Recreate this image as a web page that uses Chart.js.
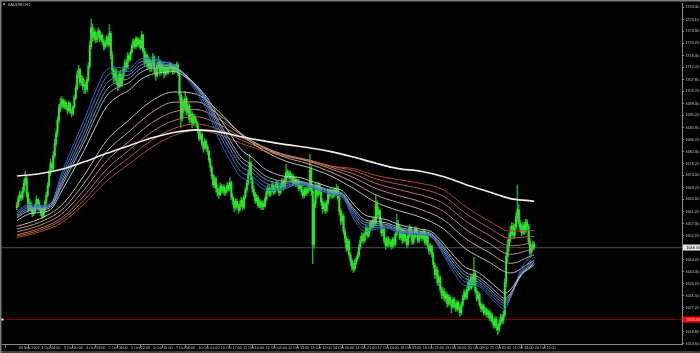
<!DOCTYPE html>
<html>
<head>
<meta charset="utf-8">
<script src="https://cdn.jsdelivr.net/npm/chart.js@4.4.1/dist/chart.umd.min.js"></script>
<style>
  html, body { margin: 0; padding: 0; background: #000; }
  canvas { display: block; }
</style>
</head>
<body>
<canvas id="chart" width="700" height="353"></canvas>
<script>
// XAUUSD H1, 30 Sep 2022 11:00 .. 24 Oct 2022 12:00 (one value per bar)
const firstOpen = 1662.6;
const closes = [
  1663.5, 1665.8, 1667.2, 1666.0, 1668.5, 1671.2, 1673.0, 1667.5, 1662.4, 1664.0, 1662.0, 1660.5, 1661.3, 1663.0, 1665.5, 1664.2,
  1662.5, 1660.8, 1659.6, 1661.8, 1664.5, 1667.0, 1670.4, 1674.8, 1678.2, 1676.5, 1681.0, 1685.3, 1688.9, 1693.5, 1697.8, 1699.2,
  1700.6, 1698.4, 1699.8, 1698.0, 1697.1, 1699.5, 1696.8, 1695.9, 1698.2, 1701.5, 1704.8, 1709.6, 1711.4, 1706.9, 1708.3, 1705.6,
  1706.2, 1704.4, 1707.8, 1712.5, 1719.6, 1726.3, 1722.8, 1724.6, 1721.9, 1723.4, 1725.0, 1722.1, 1723.5, 1721.2, 1719.4, 1720.8,
  1722.6, 1720.3, 1724.1, 1716.4, 1711.2, 1708.5, 1710.9, 1707.4, 1705.6, 1709.8, 1706.3, 1708.9, 1711.5, 1713.8, 1712.4, 1716.2,
  1715.0, 1717.4, 1719.8, 1721.5, 1719.6, 1722.3, 1720.1, 1721.8, 1719.2, 1723.6, 1718.0, 1714.2, 1716.5, 1712.6, 1714.8, 1711.9,
  1713.5, 1715.8, 1711.0, 1709.2, 1712.7, 1714.4, 1710.6, 1713.1, 1711.8, 1709.9, 1712.2, 1710.4, 1711.6, 1713.2, 1712.0, 1710.8,
  1712.5, 1711.3, 1713.0, 1710.2, 1702.4, 1694.0, 1699.5, 1697.8, 1701.2, 1696.4, 1698.6, 1693.9, 1695.7, 1692.4, 1694.8, 1693.1,
  1692.0, 1689.8, 1687.1, 1688.4, 1685.2, 1683.6, 1686.0, 1684.1, 1682.4, 1679.5, 1676.8, 1673.9, 1670.6, 1672.8, 1669.4, 1668.0,
  1667.2, 1670.1, 1668.5, 1669.8, 1667.9, 1668.8, 1670.4, 1669.2, 1671.5, 1666.3, 1664.9, 1662.5, 1664.8, 1663.1, 1661.9, 1663.7,
  1665.2, 1662.8, 1666.4, 1668.9, 1671.3, 1674.6, 1678.2, 1672.5, 1669.1, 1667.3, 1665.0, 1666.2, 1663.4, 1664.7, 1662.9, 1664.0,
  1663.1, 1665.6, 1668.2, 1669.5, 1667.4, 1668.9, 1670.6, 1668.1, 1669.7, 1671.0, 1669.3, 1667.9, 1670.2, 1671.8, 1669.6, 1672.4,
  1675.2, 1673.6, 1674.8, 1672.9, 1673.8, 1671.4, 1672.6, 1670.8, 1671.9, 1669.4, 1670.5, 1668.2, 1666.8, 1669.0, 1667.6, 1668.9,
  1669.3, 1676.0, 1668.4, 1649.6, 1663.8, 1669.5, 1667.2, 1670.4, 1668.0, 1664.6, 1662.2, 1663.9, 1661.5, 1664.3, 1668.2, 1667.0,
  1668.4, 1666.9, 1668.8, 1667.5, 1669.2, 1666.0, 1661.4, 1657.9, 1659.6, 1654.2, 1651.8, 1648.3, 1650.6, 1645.9, 1643.7, 1641.8,
  1640.9, 1643.2, 1644.5, 1645.8, 1648.7, 1651.0, 1652.6, 1650.9, 1653.4, 1655.1, 1652.8, 1654.6, 1657.2, 1655.9, 1658.3, 1657.0,
  1663.8, 1660.2, 1661.5, 1657.4, 1653.6, 1655.0, 1650.8, 1649.2, 1651.6, 1649.8, 1650.5, 1648.9, 1651.3, 1649.7, 1653.2, 1656.9,
  1655.4, 1652.1, 1654.6, 1650.9, 1653.8, 1651.5, 1649.6, 1652.7, 1655.3, 1653.0, 1650.4, 1652.2, 1654.9, 1653.1, 1651.0, 1652.6,
  1653.5, 1651.8, 1654.0, 1650.2, 1652.4, 1649.1, 1647.3, 1648.8, 1646.0, 1642.5, 1638.9, 1640.6, 1636.2, 1637.8, 1633.9, 1631.6,
  1633.0, 1630.4, 1631.8, 1628.6, 1630.9, 1629.2, 1627.5, 1630.1, 1628.4, 1626.8, 1629.0, 1627.1, 1625.4, 1628.2, 1630.7, 1632.5,
  1631.0, 1633.6, 1636.4, 1634.2, 1637.9, 1635.5, 1639.2, 1633.1, 1630.4, 1631.9, 1628.3, 1626.9, 1627.8, 1625.5, 1626.6, 1624.9,
  1625.8, 1623.6, 1624.7, 1622.4, 1621.0, 1623.2, 1620.1, 1619.5, 1621.8, 1623.9, 1622.6, 1624.8, 1636.0, 1645.2, 1649.0, 1651.5,
  1653.8, 1656.2, 1652.9, 1655.6, 1659.4, 1661.8, 1657.0, 1655.3, 1653.8, 1656.4, 1654.2, 1657.5, 1655.9, 1650.6, 1646.8, 1648.2,
  1649.6, 1648.5
];
const highs = [
  1664.6, 1666.9, 1668.5, 1668.1, 1669.8, 1672.6, 1675.4, 1673.8, 1668.2, 1665.7, 1664.9, 1663.1, 1662.7, 1664.2, 1666.8, 1666.0,
  1665.1, 1663.4, 1661.9, 1662.6, 1665.3, 1668.2, 1671.5, 1675.9, 1679.8, 1679.0, 1682.4, 1686.9, 1690.2, 1694.8, 1699.1, 1701.3,
  1701.9, 1701.2, 1700.7, 1700.4, 1698.9, 1700.3, 1699.9, 1697.5, 1698.8, 1702.4, 1705.9, 1710.8, 1712.9, 1712.0, 1709.4, 1709.1,
  1707.9, 1707.0, 1708.6, 1713.9, 1721.2, 1729.4, 1727.6, 1725.8, 1725.3, 1724.5, 1726.2, 1725.6, 1724.4, 1724.1, 1722.0, 1721.7,
  1723.5, 1723.4, 1727.3, 1724.9, 1717.8, 1712.4, 1712.0, 1711.6, 1708.8, 1710.9, 1711.2, 1709.7, 1712.6, 1715.1, 1714.9, 1717.4,
  1717.0, 1718.3, 1720.6, 1722.4, 1722.0, 1723.1, 1722.9, 1722.6, 1722.2, 1724.9, 1724.0, 1718.9, 1717.6, 1717.0, 1715.9, 1715.3,
  1714.6, 1717.2, 1716.4, 1711.9, 1713.8, 1716.1, 1714.9, 1714.0, 1713.7, 1712.5, 1713.0, 1712.9, 1712.4, 1714.1, 1713.8, 1712.6,
  1713.4, 1713.3, 1714.2, 1713.6, 1711.0, 1703.5, 1701.8, 1700.9, 1703.8, 1702.0, 1699.7, 1699.2, 1697.0, 1696.6, 1695.8, 1695.6,
  1694.2, 1693.0, 1690.4, 1689.6, 1689.1, 1686.0, 1687.2, 1686.7, 1684.9, 1683.0, 1680.2, 1677.5, 1674.6, 1673.9, 1673.5, 1670.8,
  1669.4, 1671.2, 1670.9, 1670.7, 1670.6, 1669.7, 1671.6, 1671.1, 1673.2, 1672.0, 1667.4, 1665.6, 1665.9, 1665.7, 1663.8, 1664.9,
  1666.3, 1665.9, 1667.1, 1669.8, 1672.4, 1676.0, 1681.5, 1679.0, 1673.6, 1670.2, 1668.1, 1667.3, 1666.9, 1665.6, 1665.3, 1665.1,
  1665.0, 1666.5, 1669.4, 1670.8, 1670.3, 1669.8, 1671.9, 1671.2, 1670.6, 1672.3, 1671.8, 1670.1, 1671.0, 1673.0, 1672.5, 1673.6,
  1678.0, 1676.1, 1675.7, 1675.6, 1674.7, 1674.5, 1673.5, 1673.4, 1672.8, 1672.6, 1671.3, 1671.2, 1669.0, 1669.8, 1669.9, 1669.7,
  1670.6, 1681.5, 1677.1, 1669.6, 1665.1, 1671.3, 1670.8, 1671.5, 1671.2, 1668.9, 1665.7, 1664.8, 1664.6, 1665.2, 1669.1, 1669.3,
  1669.4, 1669.0, 1669.5, 1669.6, 1670.9, 1670.2, 1666.8, 1662.3, 1660.7, 1660.4, 1655.3, 1652.6, 1651.7, 1651.4, 1646.8, 1644.6,
  1643.0, 1644.1, 1645.3, 1647.0, 1649.6, 1652.4, 1653.8, 1653.5, 1654.2, 1656.3, 1655.8, 1655.5, 1658.1, 1658.0, 1659.4, 1659.0,
  1667.5, 1665.0, 1662.8, 1662.2, 1658.6, 1656.1, 1655.9, 1652.0, 1652.5, 1652.4, 1651.4, 1651.2, 1652.0, 1652.1, 1654.0, 1660.4,
  1658.1, 1656.3, 1655.7, 1655.4, 1654.9, 1654.6, 1652.4, 1653.8, 1656.6, 1656.0, 1653.9, 1653.1, 1656.0, 1655.8, 1653.9, 1653.5,
  1654.4, 1654.2, 1654.9, 1654.7, 1653.3, 1653.0, 1649.8, 1649.9, 1649.5, 1646.8, 1643.3, 1641.7, 1641.5, 1638.9, 1638.6, 1634.8,
  1634.4, 1633.9, 1632.7, 1632.5, 1631.8, 1631.7, 1630.0, 1630.9, 1630.8, 1629.3, 1629.8, 1629.6, 1627.8, 1629.1, 1631.6, 1633.8,
  1633.4, 1634.7, 1637.5, 1637.2, 1638.8, 1638.9, 1645.0, 1640.3, 1634.0, 1633.0, 1632.6, 1629.4, 1628.7, 1628.5, 1627.4, 1627.2,
  1626.7, 1626.6, 1625.9, 1625.3, 1623.3, 1624.1, 1623.8, 1621.4, 1622.7, 1625.0, 1624.8, 1626.0, 1637.4, 1646.9, 1651.2, 1653.6,
  1656.0, 1657.4, 1657.1, 1656.8, 1660.8, 1670.7, 1663.9, 1658.2, 1656.9, 1657.5, 1657.2, 1658.6, 1658.4, 1656.7, 1651.8, 1649.5,
  1650.8, 1650.3
];
const lows = [
  1661.9, 1662.9, 1664.8, 1665.1, 1665.4, 1667.8, 1670.5, 1666.2, 1660.9, 1661.6, 1661.2, 1659.4, 1659.8, 1660.7, 1662.6, 1663.3,
  1661.8, 1659.9, 1658.7, 1658.9, 1661.0, 1663.6, 1666.4, 1669.8, 1673.9, 1675.3, 1675.8, 1680.1, 1684.2, 1687.6, 1692.4, 1696.5,
  1698.1, 1697.6, 1697.5, 1697.2, 1695.8, 1696.4, 1695.9, 1694.8, 1695.2, 1697.6, 1700.8, 1704.1, 1708.4, 1705.6, 1705.9, 1704.2,
  1703.1, 1702.9, 1703.6, 1707.0, 1711.8, 1718.7, 1721.4, 1721.6, 1720.8, 1721.0, 1722.6, 1721.3, 1721.4, 1720.3, 1718.2, 1718.6,
  1719.9, 1719.4, 1719.6, 1715.2, 1709.7, 1706.9, 1707.3, 1706.1, 1703.9, 1704.8, 1705.2, 1705.4, 1707.8, 1710.6, 1711.0, 1711.7,
  1714.1, 1714.4, 1716.9, 1719.1, 1718.7, 1718.9, 1719.5, 1719.6, 1718.4, 1718.8, 1717.1, 1712.8, 1713.5, 1711.4, 1711.9, 1710.6,
  1710.8, 1712.6, 1709.9, 1707.6, 1708.7, 1711.9, 1709.2, 1709.8, 1710.7, 1708.4, 1709.2, 1709.6, 1709.8, 1710.9, 1711.1, 1709.7,
  1709.9, 1710.5, 1710.6, 1709.1, 1700.6, 1690.8, 1693.2, 1696.1, 1697.0, 1695.3, 1695.1, 1692.5, 1692.9, 1690.9, 1691.6, 1692.2,
  1691.1, 1688.9, 1686.2, 1686.5, 1684.3, 1682.1, 1682.9, 1683.2, 1681.3, 1678.6, 1675.4, 1672.8, 1669.7, 1669.8, 1668.1, 1666.6,
  1665.9, 1666.8, 1667.6, 1667.7, 1666.8, 1667.0, 1668.1, 1668.3, 1668.6, 1665.4, 1663.7, 1661.3, 1661.8, 1662.4, 1660.6, 1661.2,
  1662.8, 1661.7, 1662.0, 1665.6, 1668.0, 1670.5, 1673.8, 1671.3, 1668.0, 1666.4, 1664.1, 1664.3, 1662.5, 1662.6, 1662.0, 1661.9,
  1661.9, 1662.7, 1665.0, 1667.4, 1666.5, 1666.6, 1668.2, 1667.2, 1667.5, 1669.0, 1668.4, 1666.8, 1667.3, 1669.6, 1668.7, 1669.1,
  1671.6, 1672.8, 1672.9, 1672.0, 1672.1, 1670.6, 1670.9, 1670.0, 1670.2, 1668.6, 1668.7, 1667.3, 1665.9, 1666.1, 1666.8, 1667.0,
  1667.9, 1668.5, 1666.9, 1642.8, 1648.3, 1662.6, 1665.9, 1666.4, 1667.1, 1663.5, 1660.6, 1661.3, 1660.4, 1660.9, 1663.6, 1665.8,
  1666.2, 1665.8, 1666.1, 1666.6, 1666.9, 1665.1, 1660.0, 1656.5, 1656.8, 1653.1, 1650.2, 1647.0, 1647.4, 1644.8, 1642.1, 1640.4,
  1639.6, 1640.2, 1642.4, 1643.7, 1645.1, 1647.9, 1650.2, 1649.8, 1650.3, 1652.6, 1651.9, 1652.0, 1654.0, 1655.0, 1655.1, 1656.1,
  1656.2, 1659.1, 1659.4, 1656.6, 1652.4, 1652.7, 1649.9, 1647.8, 1648.6, 1648.7, 1649.0, 1647.9, 1648.3, 1648.8, 1649.1, 1652.6,
  1654.6, 1651.2, 1651.3, 1649.8, 1650.1, 1650.6, 1648.4, 1648.9, 1651.8, 1652.2, 1649.5, 1649.8, 1651.6, 1652.2, 1650.1, 1650.3,
  1651.7, 1650.9, 1651.0, 1649.3, 1649.5, 1648.0, 1646.2, 1646.4, 1644.9, 1641.4, 1637.6, 1637.8, 1635.1, 1635.0, 1632.6, 1630.3,
  1630.5, 1629.6, 1629.2, 1627.4, 1627.9, 1628.3, 1625.3, 1626.9, 1627.3, 1625.9, 1626.0, 1626.2, 1624.1, 1624.8, 1627.6, 1630.0,
  1630.1, 1630.2, 1632.8, 1633.3, 1633.6, 1634.4, 1634.9, 1632.2, 1629.5, 1629.7, 1627.4, 1625.8, 1625.9, 1624.6, 1624.7, 1623.9,
  1623.8, 1622.7, 1622.5, 1621.3, 1619.9, 1620.2, 1619.0, 1617.6, 1618.7, 1620.9, 1621.4, 1621.7, 1623.9, 1634.6, 1643.5, 1647.1,
  1650.4, 1652.6, 1651.8, 1651.9, 1654.7, 1657.8, 1655.9, 1654.2, 1652.6, 1653.0, 1653.1, 1653.6, 1654.8, 1649.4, 1645.2, 1645.9,
  1647.4, 1647.9
];

// moving-average ribbons, read at sample bars
const blueBars = [0, 8, 16, 24, 32, 40, 48, 56, 64, 72, 80, 88, 96, 104, 112, 120, 128, 136, 144, 152, 160, 168, 176, 184,
  192, 200, 208, 216, 224, 232, 240, 248, 256, 264, 272, 280, 288, 296, 304, 312, 320, 328, 336, 344, 348, 352, 360, 368, 369];
const ma30 = [1661.0, 1663.8, 1663.4, 1664.1, 1674.8, 1684.5, 1693.6, 1703.7, 1711.3, 1712.2, 1711.8, 1715.1, 1715.5, 1714.3, 1713.1, 1708.9, 1703.4, 1696.4, 1686.9, 1679.5, 1673.3, 1672.1, 1669.2, 1668.7,
  1669.4, 1670.8, 1670.0, 1668.7, 1667.3, 1666.3, 1658.9, 1654.3, 1654.9, 1655.3, 1653.8, 1653.3, 1653.1, 1652.1, 1646.1, 1639.4, 1635.0, 1635.0, 1631.9, 1627.9, 1626.8, 1630.6, 1641.4, 1645.8, 1646.2];
const ma35 = [1660.5, 1663.2, 1663.1, 1663.9, 1673.5, 1682.6, 1691.4, 1701.2, 1708.9, 1710.6, 1710.8, 1714.1, 1714.8, 1714.0, 1713.1, 1709.4, 1704.3, 1697.8, 1688.9, 1681.6, 1675.3, 1673.5, 1670.4, 1669.5,
  1669.8, 1670.9, 1670.1, 1668.9, 1667.6, 1666.6, 1660.0, 1655.5, 1655.6, 1655.7, 1654.2, 1653.6, 1653.3, 1652.3, 1646.9, 1640.7, 1636.3, 1635.8, 1632.7, 1628.9, 1627.8, 1630.9, 1640.3, 1644.6, 1645.1];
const ma40 = [1660.0, 1662.6, 1662.7, 1663.5, 1672.2, 1680.8, 1689.3, 1698.8, 1706.5, 1708.8, 1709.6, 1712.9, 1713.9, 1713.4, 1712.8, 1709.6, 1705.0, 1698.9, 1690.5, 1683.4, 1677.2, 1675.0, 1671.7, 1670.5,
  1670.5, 1671.3, 1670.5, 1669.3, 1668.0, 1667.0, 1660.9, 1656.6, 1656.3, 1656.1, 1654.6, 1653.9, 1653.5, 1652.5, 1647.5, 1641.7, 1637.4, 1636.6, 1633.6, 1629.9, 1628.7, 1631.3, 1639.6, 1643.7, 1644.2];
const ma45 = [1659.5, 1662.0, 1662.3, 1663.2, 1671.2, 1679.3, 1687.4, 1696.6, 1704.3, 1707.1, 1708.3, 1711.7, 1713.0, 1712.9, 1712.5, 1709.7, 1705.4, 1699.7, 1691.9, 1685.0, 1678.9, 1676.4, 1673.0, 1671.5,
  1671.2, 1671.7, 1670.8, 1669.6, 1668.3, 1667.3, 1661.7, 1657.5, 1657.0, 1656.6, 1655.1, 1654.4, 1653.9, 1652.9, 1648.3, 1642.8, 1638.6, 1637.5, 1634.5, 1630.8, 1629.6, 1631.8, 1639.2, 1643.0, 1643.5];
const ma50 = [1659.0, 1661.4, 1661.8, 1662.7, 1670.2, 1677.9, 1685.7, 1694.5, 1702.1, 1705.2, 1706.8, 1710.3, 1711.9, 1712.1, 1711.9, 1709.5, 1705.7, 1700.4, 1693.0, 1686.4, 1680.4, 1677.7, 1674.2, 1672.5,
  1671.9, 1672.1, 1671.2, 1670.0, 1668.7, 1667.7, 1662.4, 1658.4, 1657.7, 1657.2, 1655.7, 1654.9, 1654.3, 1653.3, 1649.0, 1643.8, 1639.7, 1638.4, 1635.4, 1631.8, 1630.5, 1632.3, 1638.9, 1642.5, 1643.0];
const ma60 = [1658.0, 1660.3, 1660.9, 1661.9, 1668.5, 1675.5, 1682.8, 1691.0, 1698.3, 1701.9, 1704.1, 1707.8, 1709.7, 1710.4, 1710.7, 1708.9, 1705.8, 1701.3, 1694.8, 1688.8, 1683.1, 1680.2, 1676.6, 1674.6,
  1673.6, 1673.4, 1672.3, 1671.0, 1669.7, 1668.6, 1663.9, 1660.1, 1659.1, 1658.3, 1656.7, 1655.7, 1655.0, 1654.0, 1650.1, 1645.4, 1641.5, 1640.0, 1637.1, 1633.6, 1632.3, 1633.6, 1639.0, 1642.0, 1642.5];

const slowBars = [0, 16, 32, 48, 64, 80, 96, 112, 128, 144, 160, 176, 192, 208, 224, 240, 256, 272, 288, 304, 320, 336, 352, 368, 369];
const ma100 = [1656.0, 1658.6, 1663.5, 1674.0, 1686.3, 1693.6, 1700.3, 1703.5, 1702.7, 1696.6, 1688.5, 1682.8, 1679.0, 1676.8, 1673.8, 1669.4, 1664.5, 1661.6, 1659.2, 1655.2, 1648.1, 1643.6, 1639.5, 1643.7, 1643.9];
const ma120 = [1655.0, 1657.4, 1661.8, 1671.2, 1682.4, 1689.5, 1696.2, 1699.9, 1700.0, 1695.5, 1688.8, 1683.8, 1680.3, 1678.1, 1675.2, 1671.5, 1667.1, 1664.4, 1662.0, 1658.4, 1651.7, 1647.0, 1642.9, 1645.7, 1645.8];
const ma140 = [1654.0, 1656.3, 1660.4, 1668.9, 1679.1, 1686.0, 1692.5, 1696.5, 1697.3, 1693.9, 1688.4, 1684.1, 1681.0, 1679.0, 1676.3, 1673.3, 1669.4, 1666.9, 1664.7, 1661.4, 1655.0, 1650.2, 1646.1, 1648.0, 1648.1];
const ma160 = [1653.0, 1655.2, 1659.0, 1666.8, 1676.2, 1682.9, 1689.3, 1693.4, 1694.7, 1692.1, 1687.5, 1683.9, 1681.2, 1679.4, 1676.9, 1674.6, 1671.2, 1669.0, 1667.1, 1664.2, 1657.9, 1653.1, 1649.1, 1650.2, 1650.3];
const ma180 = [1652.5, 1654.6, 1658.2, 1665.3, 1674.0, 1680.3, 1686.4, 1690.6, 1692.2, 1690.3, 1686.5, 1683.4, 1681.1, 1679.5, 1677.3, 1675.7, 1672.8, 1670.9, 1669.3, 1666.7, 1660.6, 1655.7, 1651.8, 1652.4, 1652.4];
const ma200 = [1652.0, 1654.0, 1657.3, 1663.9, 1672.0, 1678.0, 1683.9, 1688.1, 1689.9, 1688.5, 1685.3, 1682.7, 1680.7, 1679.3, 1677.3, 1676.4, 1674.0, 1672.5, 1671.2, 1669.0, 1663.0, 1658.1, 1654.3, 1654.5, 1654.5];
const maLong = [1673.8, 1674.6, 1676.2, 1678.8, 1681.8, 1684.5, 1687.2, 1689.2, 1690.1, 1689.4, 1687.7, 1686.2, 1684.9, 1683.8, 1682.4, 1680.5, 1678.3, 1676.4, 1675.5, 1673.6, 1670.8, 1668.3, 1665.8, 1664.9, 1664.8];

const xTickBars = [0, 16, 32, 48, 64, 80, 96, 112, 128, 144, 160, 176, 192, 208, 224, 240, 256, 272, 288, 304, 320, 336, 352, 368];
const xTickLabels = ['30 Sep 2022', '3 Oct 04:00', '3 Oct 20:00', '4 Oct 13:00', '5 Oct 06:00', '5 Oct 22:00', '6 Oct 15:00',
  '7 Oct 08:00', '10 Oct 01:00', '10 Oct 17:00', '11 Oct 10:00', '12 Oct 03:00', '12 Oct 19:00', '13 Oct 12:00',
  '14 Oct 05:00', '14 Oct 21:00', '17 Oct 14:00', '18 Oct 07:00', '18 Oct 23:00', '19 Oct 16:00', '20 Oct 09:00',
  '21 Oct 02:00', '21 Oct 18:00', '24 Oct 11:00'];
const yTicks = [1614.50, 1618.80, 1623.00, 1627.20, 1631.50, 1635.70, 1640.00, 1644.20, 1648.50, 1652.70, 1657.00,
  1661.20, 1665.50, 1669.70, 1674.00, 1678.20, 1682.40, 1686.70, 1690.90, 1695.20, 1699.40, 1703.70, 1707.90,
  1712.20, 1716.40, 1720.70, 1724.90, 1729.10, 1733.40];

const bidPrice = 1648.50;
const alertPrice = 1623.05;
const symbolTitle = 'XAUUSD,H1';

const tinyFont = { family: 'Liberation Sans', size: 3.7 };

const wickData = closes.map((c, i) => ({ x: i, y: [lows[i], highs[i]] }));
const bodyData = closes.map((c, i) => ({ x: i, y: [i === 0 ? firstOpen : closes[i - 1], c] }));
const pts = (bars, vals) => bars.map((b, i) => ({ x: b, y: vals[i] }));

function maLine(bars, vals, color, width, order) {
  return {
    type: 'line',
    data: pts(bars, vals),
    borderColor: color,
    borderWidth: width,
    pointRadius: 0,
    cubicInterpolationMode: 'monotone',
    order: order
  };
}

const mtPlugin = {
  id: 'mt',
  beforeDatasetsDraw(chart) {
    const { ctx, chartArea, scales } = chart;
    ctx.save();
    let y = scales.y.getPixelForValue(bidPrice);
    ctx.strokeStyle = '#36404b';
    ctx.lineWidth = 1.3;
    ctx.beginPath();
    ctx.moveTo(chartArea.left, y);
    ctx.lineTo(chartArea.right, y);
    ctx.stroke();
    y = scales.y.getPixelForValue(alertPrice);
    ctx.strokeStyle = '#7e0000';
    ctx.lineWidth = 1;
    ctx.beginPath();
    ctx.moveTo(chartArea.left, y);
    ctx.lineTo(chartArea.right, y);
    ctx.stroke();
    ctx.restore();
  },
  afterDraw(chart) {
    const { ctx, chartArea, scales } = chart;
    ctx.save();
    // window frame
    ctx.fillStyle = '#7c7c7c';
    ctx.fillRect(0, 0, 700, 1.5);
    ctx.fillRect(0, 0, 1.5, 353);
    ctx.fillRect(0, 351.5, 700, 1);

    // symbol title
    ctx.fillStyle = '#d0d0d0';
    ctx.beginPath();
    ctx.moveTo(2.5, 3.5);
    ctx.lineTo(5.5, 3.5);
    ctx.lineTo(4, 5.5);
    ctx.closePath();
    ctx.fill();
    ctx.font = '4px "Liberation Sans"';
    ctx.textBaseline = 'middle';
    ctx.textAlign = 'left';
    ctx.fillText(symbolTitle, 7.5, 4.8);

    // price labels on the axis
    ctx.font = '3.7px "Liberation Sans"';
    let y = scales.y.getPixelForValue(bidPrice);
    ctx.fillStyle = '#e6e6e6';
    ctx.fillRect(chartArea.right + 1, y - 3, 17, 6);
    ctx.fillStyle = '#000';
    ctx.fillText(bidPrice.toFixed(2), chartArea.right + 4.5, y);
    y = scales.y.getPixelForValue(alertPrice);
    ctx.fillStyle = '#ff0000';
    ctx.fillRect(chartArea.right + 1, y - 3, 17, 6);
    ctx.fillStyle = '#ffe0e0';
    ctx.fillText(alertPrice.toFixed(2), chartArea.right + 4.5, y);
    ctx.fillStyle = '#f0f0f0';
    ctx.fillRect(chartArea.left - 0.5, y - 1, 2, 2);
    ctx.restore();
  }
};

new Chart(document.getElementById('chart'), {
  data: {
    datasets: [
      maLine(slowBars, maLong, '#eeeeee', 1.6, 0),
      maLine(blueBars, ma60, '#bcc4cc', 1, 1),
      maLine(blueBars, ma50, '#9cadc0', 1, 1),
      maLine(blueBars, ma45, '#7d98bb', 1, 1),
      maLine(blueBars, ma40, '#5f85bc', 1, 1),
      maLine(blueBars, ma35, '#4473bf', 1, 1),
      maLine(blueBars, ma30, '#2b63c4', 1, 1),
      maLine(slowBars, ma100, '#c8bab1', 1, 2),
      maLine(slowBars, ma120, '#c4a291', 1, 2),
      maLine(slowBars, ma140, '#bd8a72', 1, 2),
      maLine(slowBars, ma160, '#b77256', 1, 2),
      maLine(slowBars, ma180, '#b15c3f', 1, 2),
      maLine(slowBars, ma200, '#b0492c', 1, 2),
      {
        type: 'bar', data: bodyData, grouped: false, barThickness: 1.4, minBarLength: 0.8,
        backgroundColor: '#2fe02f', borderWidth: 0, order: 3
      },
      {
        type: 'bar', data: wickData, grouped: false, barThickness: 0.8,
        backgroundColor: '#1fae1f', borderWidth: 0, order: 4
      }
    ]
  },
  options: {
    responsive: false,
    animation: false,
    devicePixelRatio: 1,
    layout: { padding: { left: 2, top: 2, right: 0, bottom: 0 } },
    plugins: { legend: { display: false }, tooltip: { enabled: false } },
    scales: {
      x: {
        type: 'linear',
        min: -0.5,
        max: 464.3,
        afterBuildTicks: (s) => { s.ticks = xTickBars.map(v => ({ value: v })); },
        afterFit: (s) => { s.height = 9; },
        ticks: {
          autoSkip: false, maxRotation: 0, align: 'start', labelOffset: 2, padding: -2.5,
          color: '#c4c4c4', font: tinyFont,
          callback: (v, i) => xTickLabels[i]
        },
        grid: { drawOnChartArea: false, drawTicks: true, tickLength: 4, color: '#7c7c7c' },
        border: { display: true, color: '#8a8a8a', width: 1 }
      },
      y: {
        position: 'right',
        min: 1614.4,
        max: 1734.7,
        afterBuildTicks: (s) => { s.ticks = yTicks.map(v => ({ value: v })); },
        afterFit: (s) => { s.width = 18; },
        ticks: {
          autoSkip: false, padding: 1.5, color: '#c4c4c4', font: tinyFont,
          callback: (v, i) => yTicks[i].toFixed(2)
        },
        grid: { drawOnChartArea: false, drawTicks: true, tickLength: 2, color: '#8a8a8a' },
        border: { display: true, color: '#8a8a8a', width: 1 }
      }
    }
  },
  plugins: [mtPlugin]
});
</script>
</body>
</html>
